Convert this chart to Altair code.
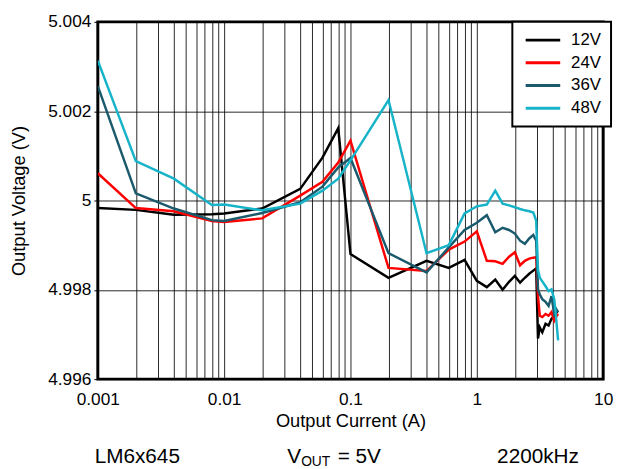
import altair as alt
import pandas as pd

# Output current (A)
current = [0.001, 0.002, 0.004, 0.008, 0.01, 0.02, 0.04, 0.06, 0.08, 0.1,
           0.2, 0.4, 0.6, 0.8, 1.0, 1.2, 1.4, 1.6, 1.8, 2.0,
           2.2, 2.4, 2.6, 2.8, 2.95, 3.05, 3.15, 3.3, 3.5, 3.7,
           3.9, 4.1, 4.25, 4.4]

v12 = [4.99983, 4.99979, 4.99968, 4.99969, 4.99971, 4.99982, 5.00026, 5.00096, 5.00162, 4.99880,
       4.99827, 4.99865, 4.99849, 4.99867, 4.99820, 4.99806, 4.99823, 4.99800, 4.99818, 4.99831,
       4.99816, 4.99827, 4.99836, 4.99843, 4.99848, 4.99691, 4.99716, 4.99705, 4.99724, 4.99720,
       4.99735, 4.99742, 4.99748, 4.99753]
v24 = [5.00061, 4.99983, 4.99976, 4.99954, 4.99952, 4.99960, 5.00011, 5.00042, 5.00085, 5.00134,
       4.99849, 4.99842, 4.99890, 4.99908, 4.99931, 4.99865, 4.99864, 4.99858, 4.99874, 4.99884,
       4.99855, 4.99865, 4.99870, 4.99872, 4.99873, 4.99786, 4.99742, 4.99739, 4.99746, 4.99742,
       4.99750, 4.99731, 4.99740, 4.99746]
v36 = [5.00256, 5.00016, 4.99982, 4.99956, 4.99954, 4.99972, 4.99996, 5.00031, 5.00074, 5.00095,
       4.99882, 4.99839, 4.99895, 4.99934, 4.99950, 4.99967, 4.99929, 4.99939, 4.99934, 4.99926,
       4.99910, 4.99903, 4.99915, 4.99923, 4.99910, 4.99801, 4.99790, 4.99779, 4.99773, 4.99764,
       4.99786, 4.99746, 4.99757, 4.99750]
v48 = [5.00313, 5.00088, 5.00049, 4.99990, 4.99991, 4.99978, 4.99993, 5.00022, 5.00049, 5.00090,
       5.00225, 4.99882, 4.99900, 4.99971, 4.99987, 4.99991, 5.00022, 4.99993, 4.99989, 4.99985,
       4.99981, 4.99978, 4.99976, 4.99973, 4.99955, 4.99845, 4.99827, 4.99819, 4.99808, 4.99797,
       4.99801, 4.99779, 4.99735, 4.99687]

series = ["12V", "24V", "36V", "48V"]
colors = ["#000000", "#ff0000", "#1a5a6c", "#17b3c8"]

y_ticks = [4.996, 4.998, 5.0, 5.002, 5.004]
x_grid = [float(f"{m}e{e}") for e in range(-3, 1) for m in range(1, 10)] + [10.0]

footer = ["LM6x645", "V", "OUT", "= 5V", "2200kHz"]

rows = []
for name, vals in zip(series, [v12, v24, v36, v48]):
    for c, v in zip(current, vals):
        rows.append({"I": c, "V": v, "Series": name})
df = pd.DataFrame(rows)

FONT = "Liberation Sans"

x_axis = alt.Axis(
    values=x_grid, grid=True, ticks=False, domain=False,
    labelExpr="abs(log(datum.value)/LN10 - round(log(datum.value)/LN10)) < 0.001 ? format(datum.value, '') : ''",
    labelOverlap=False, labelFlush=False, labelFontSize=17.5, labelPadding=12,
    title="Output Current (A)", titleFontSize=18.5, titlePadding=3,
)
y_axis = alt.Axis(
    values=y_ticks, grid=True, format=".3~f", domain=False,
    tickSize=4, tickColor="black", labelFontSize=17.5, labelPadding=3,
    labelFlush=False,
    title="Output Voltage (V)", titleFontSize=18.5, titlePadding=19,
)

lines = alt.Chart(df).mark_line(strokeWidth=2.5, clip=True).encode(
    x=alt.X("I:Q", scale=alt.Scale(type="log", domain=[0.001, 10], nice=False), axis=x_axis),
    y=alt.Y("V:Q", scale=alt.Scale(domain=[4.996, 5.004], nice=False, zero=False), axis=y_axis),
    color=alt.Color(
        "Series:N",
        scale=alt.Scale(domain=series, range=colors),
        legend=alt.Legend(
            orient="none", legendX=420, legendY=0, title=None,
            padding=10, strokeColor="black", fillColor="white",
            symbolType="M-3.5,0H3.5", symbolSize=100, symbolStrokeWidth=3,
            symbolOffset=12.5, labelOffset=20,
            labelFontSize=17, labelFont=FONT, labelColor="black",
            rowPadding=5,
        ),
    ),
    order=alt.Order("I:Q"),
)

def txt(label, x, y, size, align="center"):
    return alt.Chart(pd.DataFrame({"t": [label]})).mark_text(
        font=FONT, fontSize=size, color="black", align=align, baseline="middle"
    ).encode(text="t:N", x=alt.value(x), y=alt.value(y))

chart = alt.layer(
    lines,
    txt(footer[0], 40, 441, 21),
    txt(footer[1], 192, 441, 21, "left"),
    txt(footer[2], 206, 446, 14, "left"),
    txt(footer[3], 243, 441, 21, "left"),
    txt(footer[4], 446, 441, 21),
).properties(
    width=512, height=362,
    padding={"left": 91, "top": 11, "right": 11, "bottom": 88},
    autosize=alt.AutoSizeParams(type="none"),
).configure_view(
    stroke="black", strokeWidth=3
).configure_axis(
    gridColor="black", gridWidth=1, gridOpacity=0.85,
    labelFont=FONT, titleFont=FONT, labelColor="black", titleColor="black",
    titleFontWeight="normal",
).configure_legend(
    strokeWidth=2
)

chart.save("out.html", embed_options={"renderer": "svg", "actions": False})
